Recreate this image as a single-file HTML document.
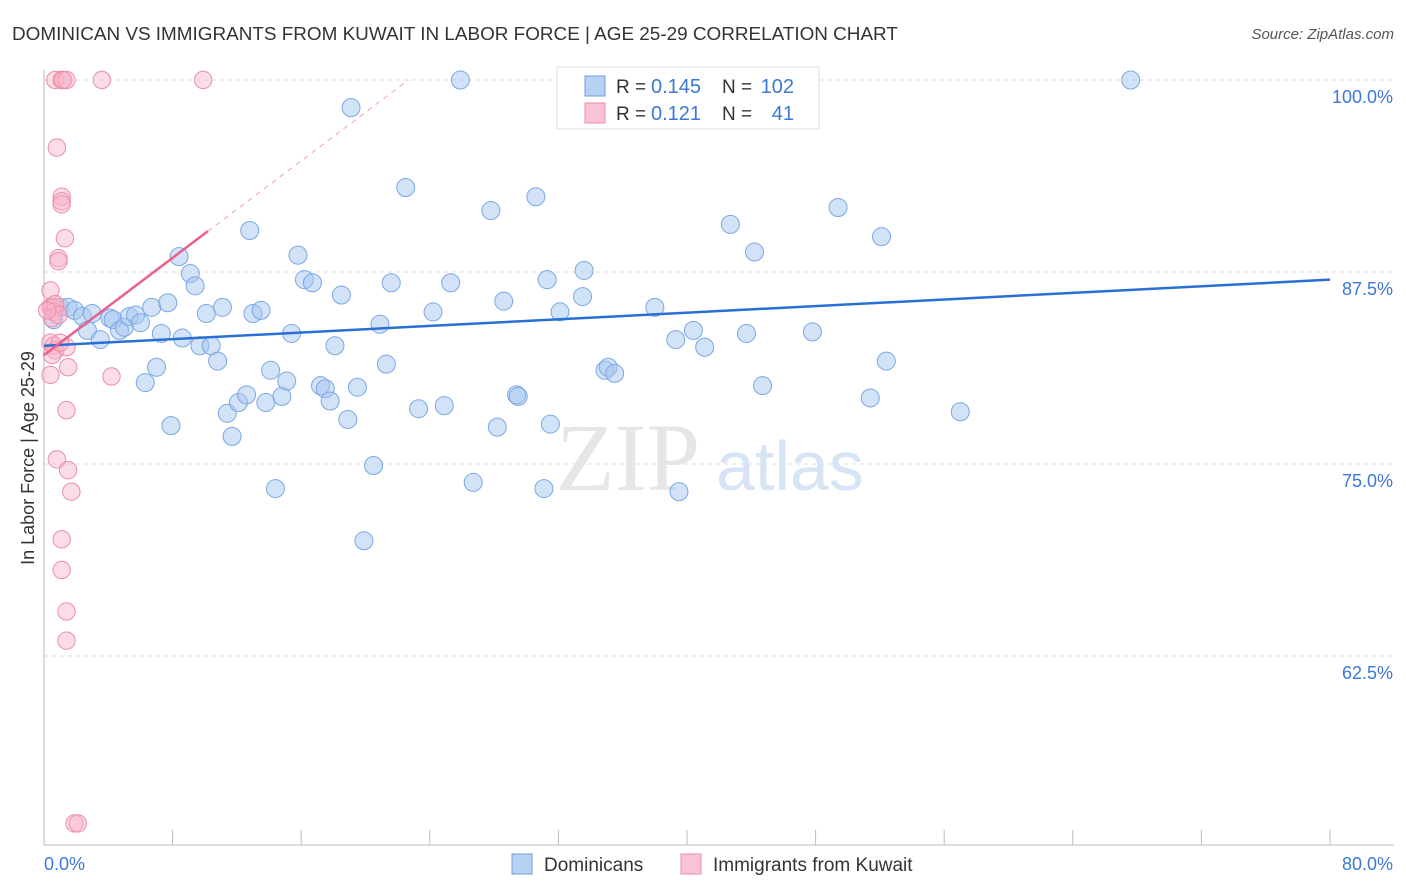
<!DOCTYPE html>
<html><head><meta charset="utf-8"><style>
body{margin:0;background:#fff;font-family:"Liberation Sans",sans-serif}
#w{position:relative;width:1406px;height:892px;overflow:hidden}
</style></head><body><div id="w">
<svg id="s" width="1406" height="892" xmlns="http://www.w3.org/2000/svg"></svg></div>
<script>
const yTicks=[100,87.5,75,62.5];
const yTickLabels=["100.0%","87.5%","75.0%","62.5%"];
const blueX=[0.6,1.0,1.5,1.9,2.4,2.7,3.0,3.5,4.1,4.3,4.7,5.0,5.3,5.7,6.0,6.3,6.7,7.0,7.3,7.7,7.9,8.4,8.6,9.1,9.4,9.7,10.1,10.4,10.8,11.1,11.4,11.7,12.1,12.6,12.8,13.0,13.5,13.8,14.1,14.4,14.8,15.1,15.4,15.8,16.2,16.7,17.2,17.5,17.8,18.1,18.5,18.9,19.1,19.5,19.9,20.5,20.9,21.3,21.6,22.5,23.3,24.2,24.9,25.3,25.9,26.7,27.8,28.2,28.6,29.4,29.5,30.6,31.1,31.3,31.5,32.1,32.5,33.5,33.6,34.9,35.1,35.5,38.0,39.3,39.5,40.4,41.1,42.7,43.7,44.2,44.7,47.8,49.4,51.4,52.1,52.4,57.0,67.6];
const blueY=[84.4,85.2,85.2,85.0,84.6,83.7,84.8,83.1,84.5,84.4,83.7,83.9,84.6,84.7,84.2,80.3,85.2,81.3,83.5,85.5,77.5,88.5,83.2,87.4,86.6,82.7,84.8,82.7,81.7,85.2,78.3,76.8,79.0,79.5,90.2,84.8,85.0,79.0,81.1,73.4,79.4,80.4,83.5,88.6,87.0,86.8,80.1,79.9,79.1,82.7,86.0,77.9,98.2,80.0,70.0,74.9,84.1,81.5,86.8,93.0,78.6,84.9,78.8,86.8,100,73.8,91.5,77.4,85.6,79.5,79.4,92.4,73.4,87.0,77.6,84.9,100,85.9,87.6,81.1,81.3,80.9,85.2,83.1,73.2,83.7,82.6,90.6,83.5,88.8,80.1,83.6,91.7,79.3,89.8,81.7,78.4,100];
const pinkX=[0.7,1.1,1.2,1.4,3.6,9.9,0.8,1.1,1.1,1.1,1.3,0.9,0.9,0.4,0.4,0.5,0.7,0.6,0.4,0.6,0.7,0.5,1.4,1.5,0.4,4.2,1.4,0.8,1.5,1.7,1.1,1.1,1.4,1.4,1.9,2.1,0.5,0.7,0.9,0.2,1.0];
const pinkY=[100,100,100,100,100,100,95.6,92.4,92.1,91.9,89.7,88.4,88.2,86.3,85.2,85.2,85.2,84.9,82.9,82.7,82.4,82.1,82.6,81.3,80.8,80.7,78.5,75.3,74.6,73.2,70.1,68.1,65.4,63.5,51.6,51.6,84.5,85.4,84.7,85.0,82.9];
const blueTrend=[82.7,87.0];
const pinkTrend=[82.1,0.79];
const X=v=>44+v/80*1286, Y=v=>80+(100-v)/12.5*192;
const s=document.getElementById('s'),NS="http://www.w3.org/2000/svg";
function mk(t,a,txt){const e=document.createElementNS(NS,t);for(const k in a)e.setAttribute(k,a[k]);if(txt!=null)e.textContent=txt;s.appendChild(e);return e;}
let e;
yTicks.forEach((t,i)=>{
e=mk('line',{x1:44,x2:1394,y1:Y(t),y2:Y(t),stroke:'#ddd','stroke-dasharray':'4,4'});


e=mk('text',{x:1393,y:Y(t)+23,'text-anchor':'end','font-size':18,fill:'#3b78d8'},yTickLabels[i]);


});
e=mk('line',{x1:44,x2:44,y1:70,y2:845,stroke:'#bbb'});


e=mk('line',{x1:44,x2:1394,y1:845,y2:845,stroke:'#bbb'});


for(let i=0;i<=10;i++){e=mk('line',{x1:X(i*8),x2:X(i*8),y1:830,y2:845,stroke:'#bbb'});

}
e=mk('text',{x:556,y:490,'font-size':96,fill:'#e6e6e6','font-family':'Liberation Serif'},'ZIP');


e=mk('text',{x:716,y:490,'font-size':70,fill:'#d6e4f5'},'atlas');


blueX.forEach((v,i)=>{e=mk('circle',{cx:X(v),cy:Y(blueY[i]),r:9,fill:'rgba(165,198,240,0.5)',stroke:'#7aa8e4','stroke-width':1});

});
pinkX.forEach((v,i)=>{e=mk('circle',{cx:X(v),cy:Y(pinkY[i]),r:8.7,fill:'rgba(248,180,200,0.45)',stroke:'#ea8eab','stroke-width':1});

});
e=mk('line',{x1:X(0),y1:Y(blueTrend[0]),x2:X(80),y2:Y(blueTrend[1]),stroke:'#2a6fd6','stroke-width':2.5});


const xe=(100-pinkTrend[0])/pinkTrend[1];
e=mk('line',{x1:X(0),y1:Y(pinkTrend[0]),x2:X(10.2),y2:Y(pinkTrend[0]+pinkTrend[1]*10.2),stroke:'#e8608c','stroke-width':2.5});


e=mk('line',{x1:X(10.2),y1:Y(pinkTrend[0]+pinkTrend[1]*10.2),x2:X(xe),y2:Y(100),stroke:'#f0a0b8','stroke-width':1,'stroke-dasharray':'5,5'});


e=mk('text',{x:12,y:40,'font-size':18.9,fill:'#333'},'DOMINICAN VS IMMIGRANTS FROM KUWAIT IN LABOR FORCE | AGE 25-29 CORRELATION CHART');


e=mk('text',{x:1394,y:39,'text-anchor':'end','font-size':15,fill:'#555','font-style':'italic'},'Source: ZipAtlas.com');


e=mk('text',{x:34,y:458,'font-size':18,fill:'#333','text-anchor':'middle',transform:'rotate(-90 34 458)'},'In Labor Force | Age 25-29');


e=mk('text',{x:44,y:870,'font-size':18,fill:'#3b78d8'},'0.0%');


e=mk('text',{x:1393,y:870,'text-anchor':'end','font-size':18,fill:'#3b78d8'},'80.0%');


e=mk('rect',{x:557,y:67,width:262,height:62,fill:'#fff',stroke:'#ddd'});


[[0,'0.145','102','rgba(165,198,240,0.8)','#6e9fe0'],[1,'0.121','41','rgba(248,180,200,0.8)','#ea8eab']].forEach(r=>{
const y=86+r[0]*27;
e=mk('rect',{x:585,y:y-10,width:20,height:20,fill:r[3],stroke:r[4]});


e=mk('text',{x:616,y:y+7,'font-size':19,fill:'#333'},'R = ');


e=mk('text',{x:651,y:y+7,'font-size':20,fill:'#3b78d8'},r[1]);


e=mk('text',{x:722,y:y+7,'font-size':19,fill:'#333'},'N = ');


e=mk('text',{x:794,y:y+7,'text-anchor':'end','font-size':20,fill:'#3b78d8'},r[2]);


});
[[512,'Dominicans','rgba(165,198,240,0.8)','#6e9fe0'],[681,'Immigrants from Kuwait','rgba(248,180,200,0.8)','#ea8eab']].forEach(r=>{
e=mk('rect',{x:r[0],y:854,width:20,height:20,fill:r[2],stroke:r[3]});


e=mk('text',{x:r[0]+32,y:871,'font-size':19,fill:'#333'},r[1]);


});
</script></body></html>
